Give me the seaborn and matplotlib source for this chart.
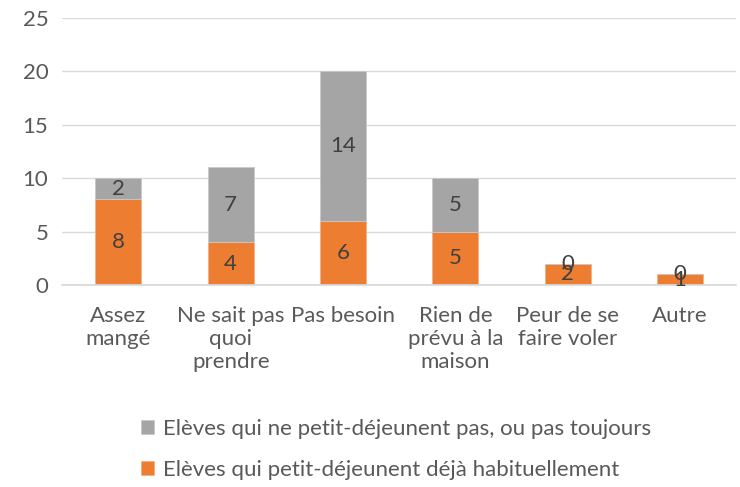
import numpy as np
import pandas as pd
import matplotlib
matplotlib.use('Agg')
import matplotlib.pyplot as plt
import seaborn as sns

categories = ['Assez\nmangé', 'Ne sait pas\nquoi\nprendre', 'Pas besoin',
              'Rien de\nprévu à la\nmaison', 'Peur de se\nfaire voler', 'Autre']
habituellement = [8, 4, 6, 5, 2, 1]
pas_toujours = [2, 7, 14, 5, 0, 0]
label_hab = 'Elèves qui petit-déjeunent déjà habituellement'
label_pas = 'Elèves qui ne petit-déjeunent pas, ou pas toujours'

orange = '#ed7d31'
grey = '#a5a5a5'
txt = '#595959'

sns.set_theme(style='white')
plt.rcParams['font.family'] = ['Lato', 'DejaVu Sans']

df = pd.DataFrame({'cat': categories, 'hab': habituellement, 'pas': pas_toujours})

fig = plt.figure(figsize=(7.4, 4.87), dpi=100)
ax = fig.add_axes([0.084, 0.415, 0.911, 0.548])

sns.barplot(data=df, x='cat', y='hab', color=orange, saturation=1, width=0.41, ax=ax,
            label=label_hab, edgecolor='#f4b183', linewidth=0.6)
sns.barplot(data=df, x='cat', y='pas', bottom=df['hab'], color=grey, saturation=1,
            width=0.41, ax=ax, label=label_pas, edgecolor='#c9c9c9', linewidth=0.6)

for c in ax.containers:
    ax.bar_label(c, label_type='center', color='#404040', fontsize=16)

ax.set_ylim(0, 25)
ax.set_yticks(range(0, 26, 5))
ax.set_xlim(-0.5, 5.5)
ax.yaxis.grid(True, color='#d9d9d9', linewidth=1)
ax.set_axisbelow(True)
for s in ['top', 'right', 'left']:
    ax.spines[s].set_visible(False)
ax.spines['bottom'].set_color('#d9d9d9')
ax.set_xlabel('')
ax.set_ylabel('')
ax.tick_params(axis='both', length=0, labelsize=16, labelcolor=txt)
ax.tick_params(axis='y', pad=10)
ax.tick_params(axis='x', pad=15)
for t in ax.get_xticklabels():
    t.set_verticalalignment('top')
    t.set_linespacing(1.2)

if ax.legend_:
    ax.legend_.remove()
h, l = ax.get_legend_handles_labels()
fig.legend(h[::-1], l[::-1], loc='center', bbox_to_anchor=(0.535, 0.077), ncol=1,
           frameon=False, fontsize=16, labelcolor=txt, handlelength=0.6,
           handleheight=0.6, handletextpad=0.4, labelspacing=0.95)

fig.savefig('out.png', dpi=100)
